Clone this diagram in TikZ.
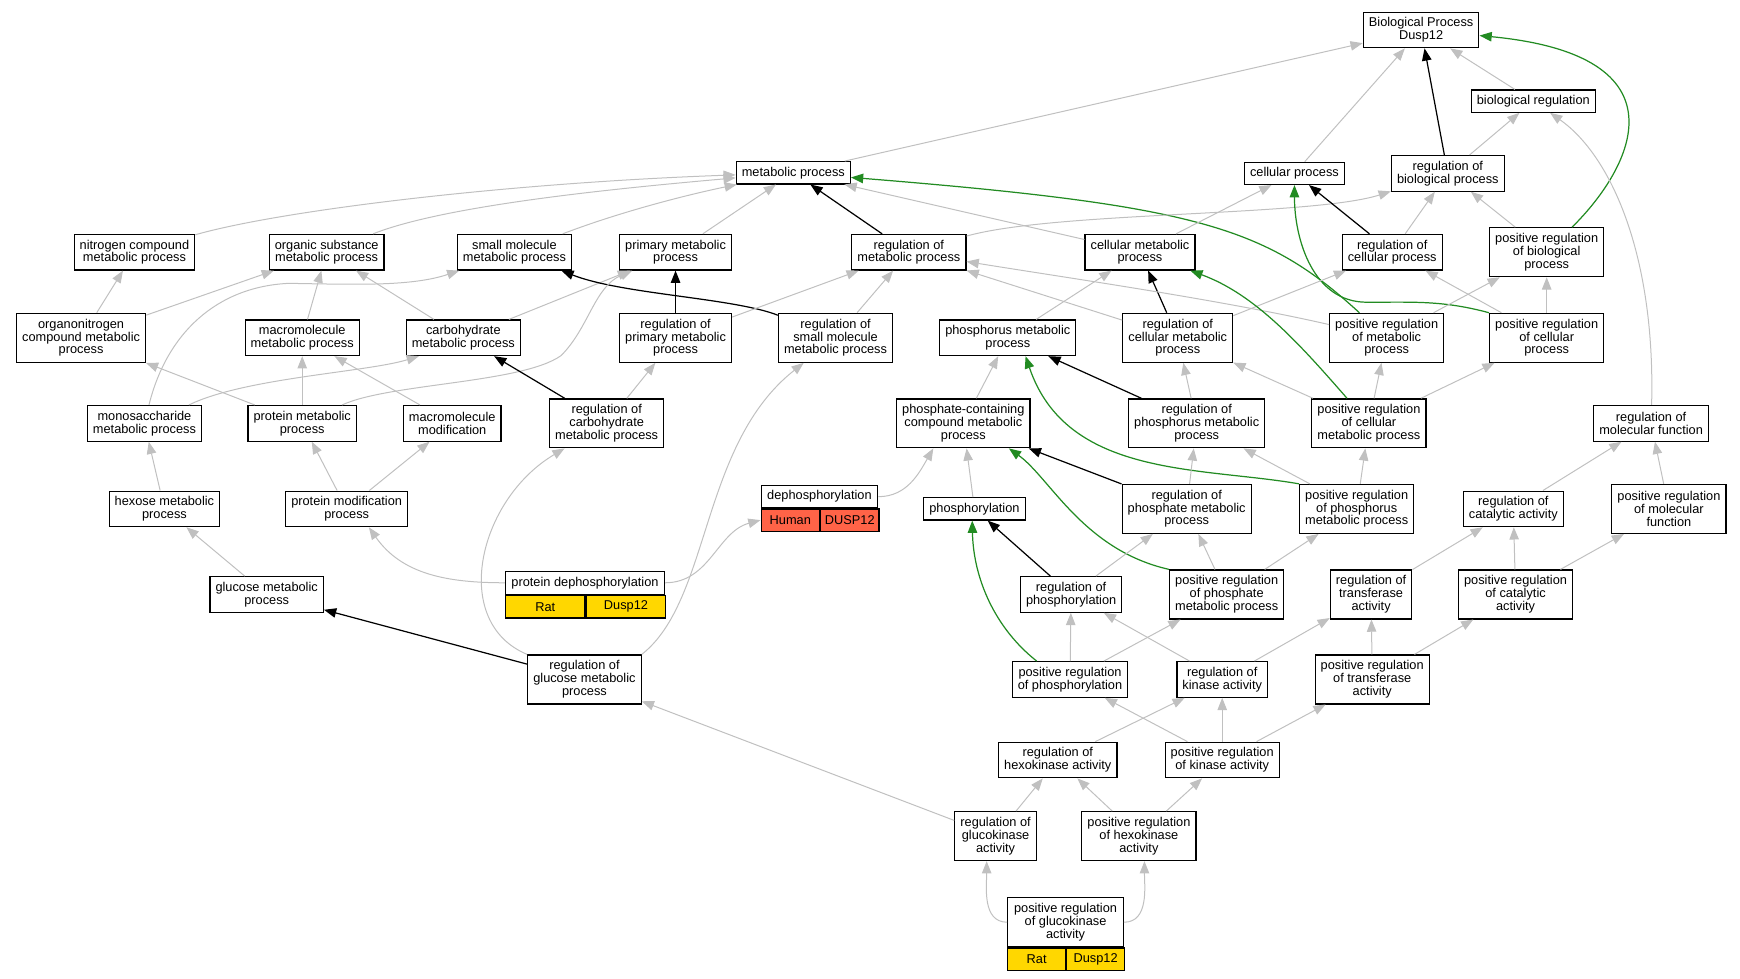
\documentclass[tikz,border=0pt]{standalone}
\usepackage{fontspec}
\usetikzlibrary{arrows.meta}
\newfontfamily\dfont{Liberation Sans}
\newcommand{\nodefont}{\dfont\fontsize{11.5pt}{11.5pt}\selectfont}
\definecolor{edgegray}{RGB}{192,192,192}
\definecolor{posgreen}{RGB}{34,139,34}
\definecolor{gold}{RGB}{255,215,0}
\definecolor{tomato}{RGB}{255,99,71}
\begin{document}
\begin{tikzpicture}[x=1pt,y=-1pt,
	term/.style={draw,fill=white,align=center,inner xsep=5pt,inner ysep=0pt,line width=1.1pt,font=\nodefont},
	one/.style={term,minimum height=20pt},
	two/.style={term,minimum height=32pt},
	three/.style={term,minimum height=44pt},
	cell/.style={draw,line width=1.1pt,minimum height=20pt,inner sep=0pt,font=\nodefont,anchor=north west},
	isa/.style={draw=edgegray,line width=0.9pt,-{Triangle[length=11pt,width=8.5pt]}},
	reg/.style={draw=black,line width=1.1pt,-{Triangle[length=11pt,width=8.5pt]}},
	posreg/.style={draw=posgreen,line width=1.1pt,-{Triangle[length=11pt,width=8.5pt]}}]
\useasboundingbox (0,0) rectangle (1566,881);
% terms
\node [two] (bp) at (1279,27) {Biological Process\\Dusp12};
\node [one] (bioreg) at (1380,91) {biological regulation};
\node [one] (meta) at (714,155.5) {metabolic process};
\node [one] (cellp) at (1165,156) {cellular process};
\node [two] (regbio) at (1303,156) {regulation of\\biological process};
\node [two] (nitro) at (121,227) {nitrogen compound\\metabolic process};
\node [two] (organ) at (294,227) {organic substance\\metabolic process};
\node [two] (small) at (463,227) {small molecule\\metabolic process};
\node [two] (prim) at (608,227) {primary metabolic\\process};
\node [two] (regmeta) at (818,227) {regulation of\\metabolic process};
\node [two] (cmeta) at (1026,227) {cellular metabolic\\process};
\node [two] (regcell) at (1253,227) {regulation of\\cellular process};
\node [three] (posbio) at (1392,227) {positive regulation\\of biological\\process};
\node [three] (orgn) at (73,304) {organonitrogen\\compound metabolic\\process};
\node [two] (macro) at (272,304) {macromolecule\\metabolic process};
\node [two] (carb) at (417,304) {carbohydrate\\metabolic process};
\node [three] (regprim) at (608,304) {regulation of\\primary metabolic\\process};
\node [three] (regsmall) at (752,304) {regulation of\\small molecule\\metabolic process};
\node [two] (phos) at (907,304) {phosphorus metabolic\\process};
\node [three] (regcmeta) at (1060,304) {regulation of\\cellular metabolic\\process};
\node [three] (posmeta) at (1248,304) {positive regulation\\of metabolic\\process};
\node [three] (poscell) at (1392,304) {positive regulation\\of cellular\\process};
\node [two] (mono) at (130,381) {monosaccharide\\metabolic process};
\node [two] (prot) at (272,381) {protein metabolic\\process};
\node [two] (mmod) at (407,381) {macromolecule\\modification};
\node [three] (regcarb) at (546,381) {regulation of\\carbohydrate\\metabolic process};
\node [three] (pcc) at (867,381) {phosphate-containing\\compound metabolic\\process};
\node [three] (regphos) at (1077,381) {regulation of\\phosphorus metabolic\\process};
\node [three] (poscmeta) at (1232,381) {positive regulation\\of cellular\\metabolic process};
\node [two] (regmol) at (1486,381) {regulation of\\molecular function};
\node [two] (hexose) at (148,458) {hexose metabolic\\process};
\node [two] (pmod) at (312,458) {protein modification\\process};
\node [one,minimum width=105pt] (deph) at (737.5,447) {dephosphorylation};
\node [cell,fill=tomato,minimum width=52.5pt] (dephA) at (deph.south west) {Human};
\node [cell,fill=tomato,minimum width=52.5pt] (dephB) at (dephA.north east) {DUSP12};
\node [one] (phosph) at (877,458) {phosphorylation};
\node [three] (regphate) at (1068,458) {regulation of\\phosphate metabolic\\process};
\node [three] (posphos) at (1221,458) {positive regulation\\of phosphorus\\metabolic process};
\node [two] (regcat) at (1362,458) {regulation of\\catalytic activity};
\node [three] (posmol) at (1502,458) {positive regulation\\of molecular\\function};
\node [two] (glu) at (240,535) {glucose metabolic\\process};
\node [one,minimum width=143pt,minimum height=21pt] (pdeph) at (526.5,524.5) {protein dephosphorylation};
\node [cell,fill=gold,minimum width=71.5pt] (pdephA) at (pdeph.south west) {Rat};
\node [cell,fill=gold,minimum width=71.5pt] (pdephB) at (pdephA.north east) {Dusp12};
\node [two] (regphosph) at (964,535) {regulation of\\phosphorylation};
\node [three] (posphate) at (1104,535) {positive regulation\\of phosphate\\metabolic process};
\node [three] (regtrans) at (1234,535) {regulation of\\transferase\\activity};
\node [three] (poscat) at (1364,535) {positive regulation\\of catalytic\\activity};
\node [three] (regglu) at (526,611.5) {regulation of\\glucose metabolic\\process};
\node [two] (posphosph) at (963,611.5) {positive regulation\\of phosphorylation};
\node [two] (regkin) at (1100,611.5) {regulation of\\kinase activity};
\node [three] (postrans) at (1235,611.5) {positive regulation\\of transferase\\activity};
\node [two] (reghex) at (952,684) {regulation of\\hexokinase activity};
\node [two] (poskin) at (1100,684) {positive regulation\\of kinase activity};
\node [three] (regglk) at (896,752.5) {regulation of\\glucokinase\\activity};
\node [three] (poshex) at (1025,752.5) {positive regulation\\of hexokinase\\activity};
\node [three,minimum width=104pt] (posglk) at (959,830) {positive regulation\\of glucokinase\\activity};
\node [cell,fill=gold,minimum width=52pt] (posglkA) at (posglk.south west) {Rat};
\node [cell,fill=gold,minimum width=52pt] (posglkB) at (posglkA.north east) {Dusp12};
% top
\draw [isa] (meta) -- (bp);
\draw [isa] (cellp) -- (bp);
\draw [reg] (regbio) -- (bp);
\draw [isa] (bioreg) -- (bp);
\draw [posreg] (posbio) .. controls (1470,150) and (1520,50) .. (bp);
\draw [isa] (regbio) -- (bioreg);
\draw [isa] (regmol) .. controls (1490,230) and (1450,140) .. (bioreg);
\draw [isa] (nitro) .. controls (250,190) and (450,165) .. (meta);
\draw [isa] (organ) .. controls (400,185) and (550,170) .. (meta);
\draw [isa] (small) .. controls (560,190) and (620,175) .. (meta);
\draw [isa] (prim) -- (meta);
\draw [reg] (regmeta) -- (meta);
\draw [isa] (cmeta) -- (meta);
\draw [posreg] (posmeta) .. controls (1140,205) and (1080,185) .. (meta);
\draw [isa] (regmeta) .. controls (950,190) and (1180,195) .. (regbio);
\draw [isa] (cmeta) -- (cellp);
\draw [reg] (regcell) -- (cellp);
\draw [posreg] (poscell.north west) to[out=165,in=0] (1230,272) to[out=180,in=-90] (cellp);
\draw [isa] (regcell) -- (regbio);
\draw [isa] (posbio) -- (regbio);
\draw [isa] (posmeta) -- (posbio);
\draw [isa] (poscell) -- (posbio);
\draw [isa] (poscell) -- (regcell);
\draw [isa] (regcmeta) -- (regcell);
\draw [reg] (regcmeta) -- (cmeta);
\draw [isa] (regcmeta) -- (regmeta);
\draw [isa] (posmeta) .. controls (1100,270) and (960,250) .. (regmeta);
\draw [isa] (phos) -- (cmeta);
\draw [posreg] (poscmeta) .. controls (1170,310) and (1130,265) .. (cmeta);
\draw [isa] (poscmeta) -- (regcmeta);
\draw [isa] (poscmeta) -- (posmeta);
\draw [isa] (poscmeta) -- (poscell);
% left
\draw [isa] (orgn) -- (nitro);
\draw [isa] (orgn) -- (organ);
\draw [isa] (macro) -- (organ);
\draw [isa] (carb) -- (organ);
\draw [isa] (carb) -- (prim);
\draw [isa] (mono) .. controls (150,300) and (195,258) .. (260,255) .. controls (320,256) and (370,258) .. (small);
\draw [reg] (regsmall) .. controls (660,268) and (560,265) .. (small);
\draw [reg] (regprim) -- (prim);
\draw [isa] (regsmall) -- (regmeta);
\draw [isa] (regprim) -- (regmeta);
\draw [isa] (prot) .. controls (350,345) and (470,345) .. (505,320) .. controls (530,295) and (535,258) .. (prim);
\draw [isa] (prot) -- (orgn);
\draw [isa] (prot) -- (macro);
\draw [isa] (mmod) -- (macro);
\draw [isa] ([xshift=40pt]mono.north) .. controls (220,340) and (330,335) .. ([xshift=-40pt]carb.south);
\draw [reg] (regcarb) -- (carb);
\draw [isa] (regcarb) -- (regprim);
\draw [isa] (regglu.north east) .. controls (640,540) and (630,400) .. (regsmall);
\draw [isa] (regglu.north west) .. controls (405,560) and (430,450) .. (regcarb);
\draw [reg] (regglu) -- (glu);
\draw [isa] (glu) -- (hexose);
\draw [isa] (hexose) -- (mono);
\draw [isa] (pmod) -- (prot);
\draw [isa] (pmod) -- (mmod);
\draw [isa] (pdeph.west) to[out=180,in=-55] ([xshift=20pt]pmod.south);
\draw [isa] (pdeph.east) to[out=0,in=195] (dephA.west);
\draw [isa] (deph.east) to[out=0,in=-120] ([xshift=-27pt]pcc.south);
\draw [isa] (regglk) -- (regglu);
% right
\draw [isa] (pcc) -- (phos);
\draw [reg] (regphos) -- (phos);
\draw [posreg] (posphos.north west) .. controls (1080,420) and (960,430) .. ([xshift=16pt]phos.south);
\draw [isa] (regphos) -- (regcmeta);
\draw [isa] (posphos) -- (regphos);
\draw [isa] (posphos) -- (poscmeta);
\draw [isa] (phosph) -- (pcc);
\draw [reg] (regphate) -- (pcc);
\draw [posreg] (posphate.north west) .. controls (975,495) and (945,430) .. ([xshift=41pt]pcc.south);
\draw [isa] (regphate) -- (regphos);
\draw [isa] (posphate) -- (regphate);
\draw [isa] (posphate) -- (posphos);
\draw [reg] (regphosph) -- (phosph);
\draw [isa] (regphosph) -- (regphate);
\draw [posreg] ([xshift=-30pt]posphosph.north) .. controls (895,565) and (876,520) .. ([xshift=-2pt]phosph.south);
\draw [isa] (posphosph) -- (regphosph);
\draw [isa] (posphosph) -- (posphate);
\draw [isa] (regkin) -- (regphosph);
\draw [isa] (regkin) -- (regtrans);
\draw [isa] (postrans) -- (regtrans);
\draw [isa] (postrans) -- (poscat);
\draw [isa] (regtrans) -- (regcat);
\draw [isa] (poscat) -- (regcat);
\draw [isa] (poscat) -- (posmol);
\draw [isa] (regcat) -- (regmol);
\draw [isa] (posmol) -- (regmol);
% bottom
\draw [isa] (reghex) -- (regkin);
\draw [isa] (poskin) -- (regkin);
\draw [isa] (poskin) -- (posphosph);
\draw [isa] (poskin) -- (postrans);
\draw [isa] (regglk) -- (reghex);
\draw [isa] (poshex) -- (reghex);
\draw [isa] (poshex) -- (poskin);
\draw [isa] (posglk.west) to[out=180,in=-90] ([xshift=-8pt]regglk.south);
\draw [isa] (posglk.east) to[out=0,in=-90] ([xshift=5pt]poshex.south);
\end{tikzpicture}
\end{document}
